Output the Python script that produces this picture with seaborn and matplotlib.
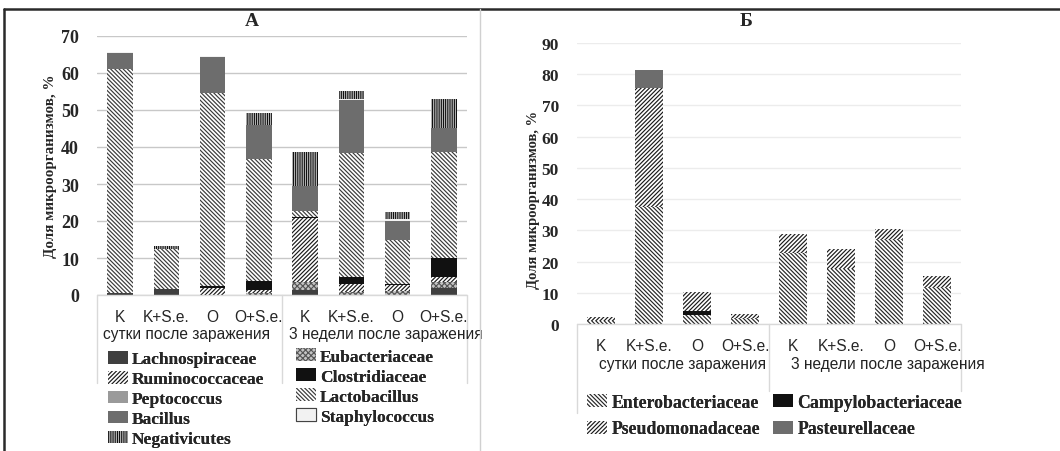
import numpy as np
import pandas as pd
import matplotlib
matplotlib.use("Agg")
import matplotlib.pyplot as plt
import matplotlib.patches as mpatches
import matplotlib.transforms as mtrans
from matplotlib.lines import Line2D
import seaborn as sns

# ---------------- data ----------------
bar_ids = ["K1", "KS1", "O1", "OS1", "K2", "KS2", "O2", "OS2"]
cat_labels = ["K", "K+S.e.", "O", "O+S.e.", "K", "K+S.e.", "O", "O+S.e."]
group_labels = ["сутки после заражения", "3 недели после заражения"]
ylabel = "Доля микроорганизмов, %"

# Panel A (stack order bottom -> top)
a_names = ["Lachnospiraceae", "Eubacteriaceae", "Ruminococcaceae", "Clostridiaceae",
           "Peptococcus", "Lactobacillus", "Bacillus", "Staphylococcus", "Negativicutes"]
lachnospiraceae = [0.5, 1.5, 0.0, 0.0, 1.3, 0.0, 0.0, 1.8]
eubacteriaceae = [0.0, 0.0, 0.0, 0.6, 2.2, 0.8, 1.0, 1.7]
ruminococcaceae = [0.0, 0.0, 1.8, 0.8, 17.3, 2.2, 1.7, 1.3]
clostridiaceae = [0.0, 0.0, 0.5, 2.4, 0.3, 1.8, 0.3, 5.3]
peptococcus = [0.0, 0.0, 0.0, 0.0, 0.0, 0.0, 0.0, 0.0]
lactobacillus = [60.6, 10.8, 52.3, 32.9, 1.5, 33.6, 12.0, 28.5]
bacillus = [4.4, 0.0, 9.8, 9.3, 6.9, 14.2, 5.1, 6.5]
staphylococcus = [0.2, 0.0, 0.2, 0.0, 0.0, 0.3, 0.5, 0.0]
negativicutes = [0.0, 1.0, 0.0, 3.3, 9.1, 2.3, 1.8, 8.0]
a_values = [lachnospiraceae, eubacteriaceae, ruminococcaceae, clostridiaceae,
            peptococcus, lactobacillus, bacillus, staphylococcus, negativicutes]
a_ticks = [0, 10, 20, 30, 40, 50, 60, 70]

# Panel B
b_names = ["Enterobacteriaceae", "Campylobacteriaceae", "Pseudomonadaceae", "Pasteurellaceae"]
enterobacteriaceae = [1.0, 37.5, 3.0, 2.0, 22.8, 17.5, 27.3, 11.7]
campylobacteriaceae = [0.0, 0.0, 1.2, 0.0, 0.0, 0.0, 0.0, 0.0]
pseudomonadaceae = [1.1, 38.1, 5.9, 1.2, 5.9, 6.6, 3.1, 3.6]
pasteurellaceae = [0.0, 5.7, 0.0, 0.0, 0.0, 0.0, 0.0, 0.0]
b_values = [enterobacteriaceae, campylobacteriaceae, pseudomonadaceae, pasteurellaceae]
b_ticks = [0, 10, 20, 30, 40, 50, 60, 70, 80, 90]

# ---------------- styles ----------------
BS = "\\"
styles = {
    "Lachnospiraceae": ("#3f3f3f", "#3f3f3f", None),
    "Eubacteriaceae": ("#c4c4c4", "#555555", "xxxxxx"),
    "Ruminococcaceae": ("white", "#1a1a1a", "/" * 8),
    "Clostridiaceae": ("#111111", "#111111", None),
    "Peptococcus": ("#9a9a9a", "#9a9a9a", None),
    "Lactobacillus": ("white", "#3a3a3a", BS * 8),
    "Bacillus": ("#6d6d6d", "#6d6d6d", None),
    "Staphylococcus": ("#f2f2f2", "#f2f2f2", None),
    "Negativicutes": ("white", "#111111", "|" * 9),
    "Enterobacteriaceae": ("white", "#262626", BS * 8),
    "Campylobacteriaceae": ("#111111", "#111111", None),
    "Pseudomonadaceae": ("white", "#1a1a1a", "/" * 8),
    "Pasteurellaceae": ("#6d6d6d", "#6d6d6d", None),
}

sns.set_style("white")
plt.rcParams["font.family"] = ["Liberation Serif", "DejaVu Serif"]
plt.rcParams["font.weight"] = "bold"
plt.rcParams["hatch.linewidth"] = 0.85

W, H = 1060, 452
fig = plt.figure(figsize=(W / 100, H / 100), dpi=100)


def fx(px):
    return px / W


def fy(py):
    return 1 - py / H


def make_ax(left, right, top, bottom):
    return fig.add_axes([fx(left), fy(bottom), fx(right - left), (bottom - top) / H])


def stacked(ax, names, values, width):
    cum = np.cumsum(np.array(values, dtype=float), axis=0)
    for i in reversed(range(len(names))):
        face, hc, hatch = styles[names[i]]
        df = pd.DataFrame({"bar": bar_ids, "value": cum[i]})
        sns.barplot(data=df, x="bar", y="value", order=bar_ids, ax=ax, color=face,
                    saturation=1, width=width, edgecolor=hc, linewidth=0,
                    hatch=hatch, errorbar=None)


def style_ax(ax, ticks, gridcolor, cat_pad, group_y, group_x, sep_bottom, ytick_size):
    ax.set_ylim(0, ticks[-1])
    ax.set_yticks(ticks)
    ax.yaxis.grid(True, color=gridcolor, lw=1)
    ax.set_axisbelow(True)
    for s in ax.spines.values():
        s.set_visible(False)
    ax.set_xlabel("")
    ax.set_ylabel("")
    ax.tick_params(axis="y", length=0, pad=13, labelsize=ytick_size)
    ax.set_xticks(range(len(cat_labels)))
    ax.set_xticklabels(cat_labels, family="Liberation Sans", weight="normal", fontsize=11.2)
    ax.tick_params(axis="x", length=0, pad=cat_pad)
    ax.set_xlim(-0.5, 7.5)
    tr = mtrans.blended_transform_factory(ax.transData, ax.transAxes)
    ax.plot([-0.5, 7.5], [0, 0], color="#d9d9d9", lw=1, transform=tr, clip_on=False)
    for xs, yb in zip([-0.5, 3.5, 7.5], sep_bottom):
        ax.plot([xs, xs], [0, yb], color="#d9d9d9", lw=1, transform=tr, clip_on=False)
    for gx, gl in zip(group_x, group_labels):
        ax.text(gx, group_y, gl, transform=tr, ha="left", va="center",
                family="Liberation Sans", weight="normal", fontsize=11.2, color="#222222")


# ---------------- panel A ----------------
axA = make_ax(97, 467, 37, 296)
stacked(axA, a_names, a_values, 0.55)
style_ax(axA, a_ticks, "#c8c8c8", 10, (296 - 334) / 259, [-0.37, 3.65],
         [(296 - 384) / 259] * 3, 13)

# ---------------- panel B ----------------
axB = make_ax(577, 961, 44, 325)
stacked(axB, b_names, b_values, 0.57)
style_ax(axB, b_ticks, "#ececec", 10, (325 - 365) / 281, [-0.05, 3.95],
         [(325 - 414) / 281, (325 - 392) / 281, (325 - 392) / 281], 12.5)

# ---------------- titles and labels ----------------
fig.text(fx(252), fy(22), "А", ha="center", va="center", fontsize=14)
fig.text(fx(746), fy(22), "Б", ha="center", va="center", fontsize=14)
fig.text(fx(51), fy(166), ylabel, rotation=90, ha="center", va="center", fontsize=10.8)
fig.text(fx(533), fy(200), ylabel, rotation=90, ha="center", va="center", fontsize=10.5)

# ---------------- frame ----------------
fig.add_artist(Line2D([fx(4), 1], [fy(10), fy(10)], color="#2a2a2a", lw=1.8))
fig.add_artist(Line2D([fx(4), fx(4)], [fy(10), 0], color="#2a2a2a", lw=1.8))
fig.add_artist(Line2D([fx(480), fx(480)], [fy(10), 0], color="#d0d0d0", lw=1))


# ---------------- legends ----------------
def handle(name):
    face, hc, hatch = styles[name]
    if name == "Staphylococcus":
        return mpatches.Patch(facecolor=face, edgecolor="#444444", linewidth=0.8)
    return mpatches.Patch(facecolor=face, edgecolor=hc, hatch=hatch, linewidth=0)


def legend(names, x, y_top, spacing, size=12.5):
    lg = fig.legend([handle(n) for n in names], names, loc="upper left",
                    bbox_to_anchor=(fx(x), fy(y_top)), frameon=False, borderpad=0,
                    borderaxespad=0, handlelength=1.15, handleheight=0.75,
                    handletextpad=0.22, labelspacing=spacing,
                    prop={"family": "Liberation Serif", "weight": "bold", "size": size})
    fig.add_artist(lg)
    return lg


legend(["Lachnospiraceae", "Ruminococcaceae", "Peptococcus", "Bacillus", "Negativicutes"],
       108, 352, 0.2)
legend(["Eubacteriaceae", "Clostridiaceae", "Lactobacillus", "Staphylococcus"],
       296, 349.5, 0.2)
legend(["Enterobacteriaceae", "Pseudomonadaceae"], 587, 394.5, 0.55, 12.8)
legend(["Campylobacteriaceae", "Pasteurellaceae"], 773, 394.5, 0.55, 12.8)

fig.savefig("out.png", dpi=100)
